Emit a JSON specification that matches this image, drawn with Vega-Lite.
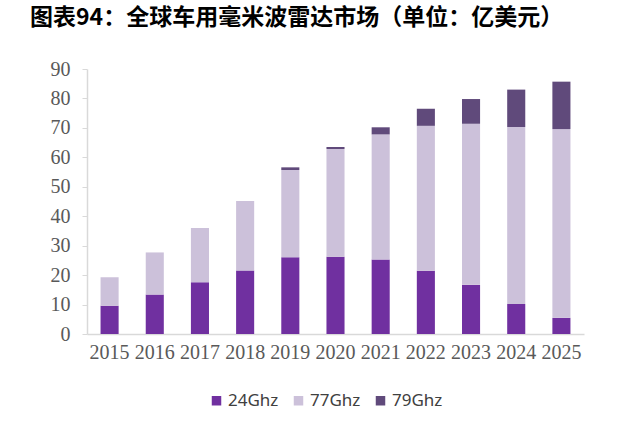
{
  "$schema": "https://vega.github.io/schema/vega-lite/v6.json",
  "autosize": "none",
  "width": 497,
  "height": 265,
  "padding": {"left": 87, "top": 69, "right": 56, "bottom": 103},
  "background": "white",
  "title": {
    "text": "图表94：全球车用毫米波雷达市场（单位：亿美元）",
    "anchor": "start",
    "frame": "group",
    "font": "Noto Sans CJK SC",
    "fontWeight": "bold",
    "fontSize": 23,
    "color": "#000000",
    "dx": -57,
    "dy": -29,
    "baseline": "top",
    "offset": 0,
    "limit": 610
  },
  "data": {
    "values": [
      {"year": "2015", "type": "24Ghz", "value": 9.6},
      {"year": "2015", "type": "77Ghz", "value": 9.7},
      {"year": "2015", "type": "79Ghz", "value": 0},
      {"year": "2016", "type": "24Ghz", "value": 13.4},
      {"year": "2016", "type": "77Ghz", "value": 14.3},
      {"year": "2016", "type": "79Ghz", "value": 0},
      {"year": "2017", "type": "24Ghz", "value": 17.6},
      {"year": "2017", "type": "77Ghz", "value": 18.4},
      {"year": "2017", "type": "79Ghz", "value": 0},
      {"year": "2018", "type": "24Ghz", "value": 21.6},
      {"year": "2018", "type": "77Ghz", "value": 23.6},
      {"year": "2018", "type": "79Ghz", "value": 0},
      {"year": "2019", "type": "24Ghz", "value": 26.1},
      {"year": "2019", "type": "77Ghz", "value": 29.6},
      {"year": "2019", "type": "79Ghz", "value": 0.9},
      {"year": "2020", "type": "24Ghz", "value": 26.2},
      {"year": "2020", "type": "77Ghz", "value": 36.6},
      {"year": "2020", "type": "79Ghz", "value": 0.7},
      {"year": "2021", "type": "24Ghz", "value": 25.3},
      {"year": "2021", "type": "77Ghz", "value": 42.5},
      {"year": "2021", "type": "79Ghz", "value": 2.4},
      {"year": "2022", "type": "24Ghz", "value": 21.5},
      {"year": "2022", "type": "77Ghz", "value": 49.2},
      {"year": "2022", "type": "79Ghz", "value": 5.8},
      {"year": "2023", "type": "24Ghz", "value": 16.7},
      {"year": "2023", "type": "77Ghz", "value": 54.7},
      {"year": "2023", "type": "79Ghz", "value": 8.4},
      {"year": "2024", "type": "24Ghz", "value": 10.2},
      {"year": "2024", "type": "77Ghz", "value": 60.1},
      {"year": "2024", "type": "79Ghz", "value": 12.7},
      {"year": "2025", "type": "24Ghz", "value": 5.5},
      {"year": "2025", "type": "77Ghz", "value": 64.1},
      {"year": "2025", "type": "79Ghz", "value": 16.1}
    ]
  },
  "mark": {"type": "bar"},
  "encoding": {
    "x": {
      "field": "year",
      "type": "ordinal",
      "title": null,
      "scale": {"paddingInner": 0.6, "paddingOuter": 0.3},
      "axis": {
        "labelAngle": 0,
        "labelFont": "Liberation Serif",
        "labelFontSize": 20,
        "labelColor": "#595959",
        "labelPadding": 8,
        "ticks": false,
        "domainColor": "#d9d9d9",
        "domainWidth": 1.5,
        "grid": false
      }
    },
    "y": {
      "field": "value",
      "type": "quantitative",
      "stack": "zero",
      "title": null,
      "scale": {"domain": [0, 90]},
      "axis": {
        "values": [0, 10, 20, 30, 40, 50, 60, 70, 80, 90],
        "labelFont": "Liberation Serif",
        "labelFontSize": 20,
        "labelColor": "#595959",
        "labelPadding": 12,
        "tickSize": 5,
        "tickColor": "#d9d9d9",
        "domainColor": "#d9d9d9",
        "domainWidth": 1.5,
        "grid": false
      }
    },
    "order": {"field": "type", "sort": "ascending"},
    "color": {
      "field": "type",
      "type": "nominal",
      "title": null,
      "scale": {
        "domain": ["24Ghz", "77Ghz", "79Ghz"],
        "range": ["#7030A0", "#CCC1DA", "#604A7B"]
      },
      "legend": {
        "orient": "none",
        "direction": "horizontal",
        "legendX": 121,
        "legendY": 323,
        "symbolType": "square",
        "symbolSize": 90,
        "symbolStrokeWidth": 0,
        "labelFont": "Noto Sans",
        "labelFontSize": 17,
        "labelColor": "#404040",
        "labelOffset": 3,
        "columnPadding": 11
      }
    }
  },
  "config": {"view": {"stroke": null}}
}
